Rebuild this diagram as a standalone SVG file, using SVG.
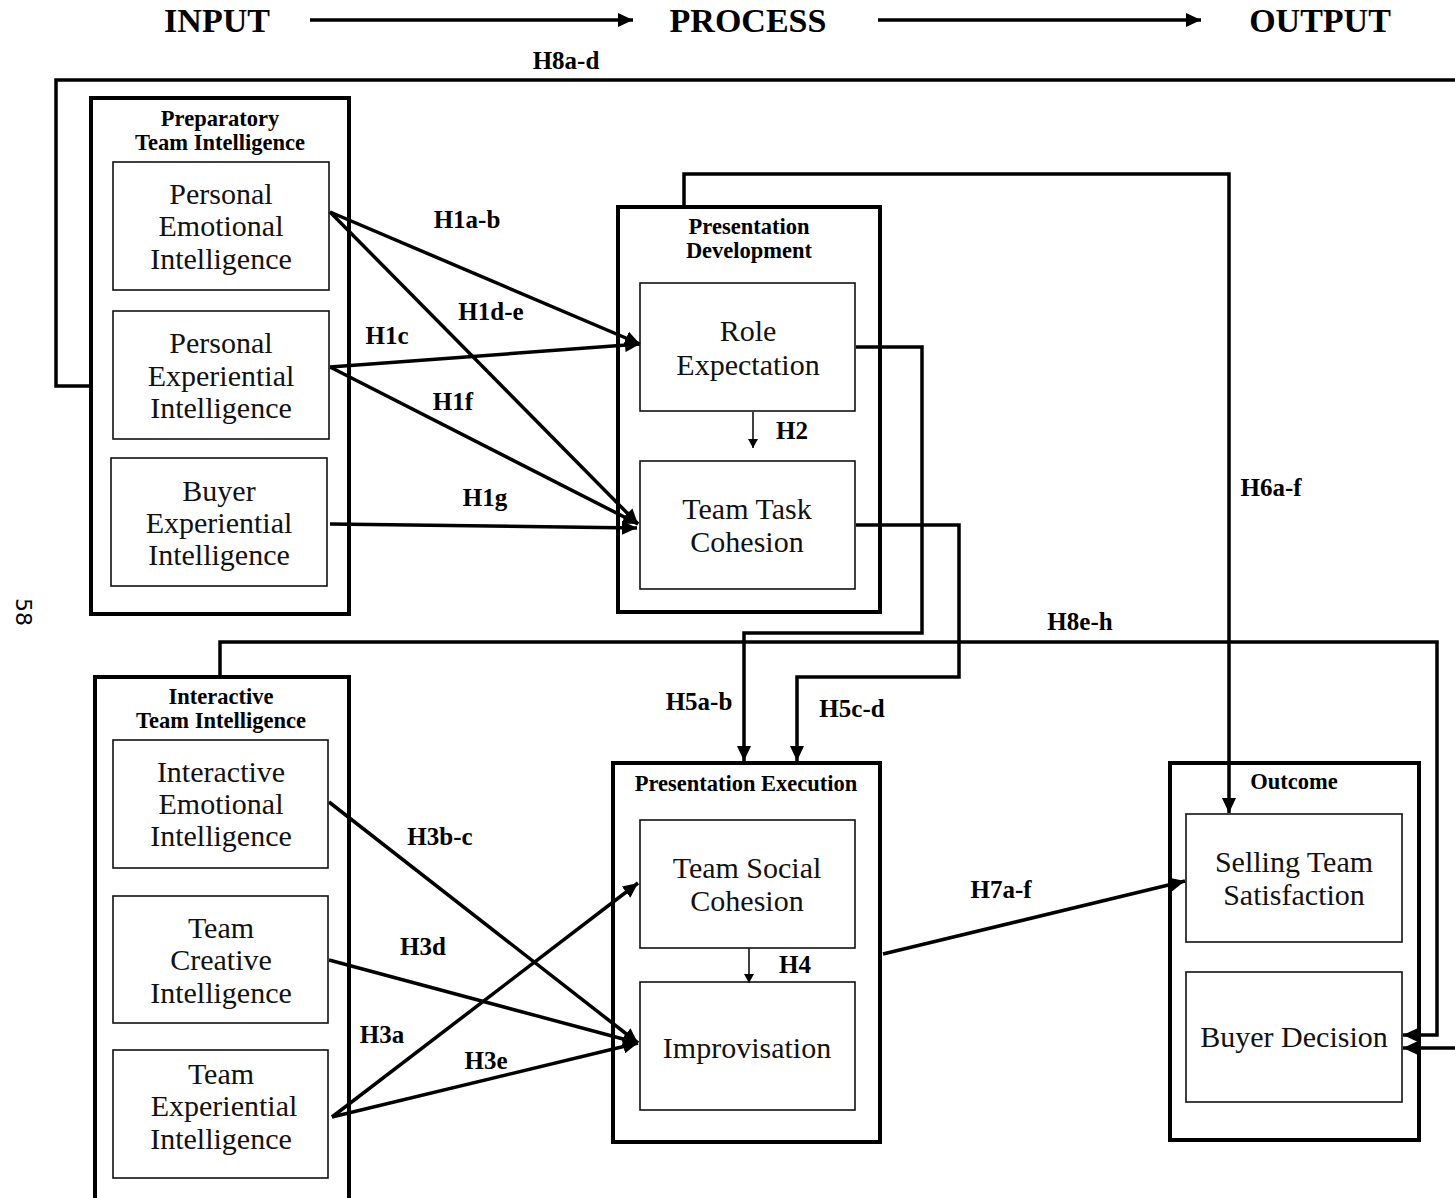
<svg xmlns="http://www.w3.org/2000/svg" width="1455" height="1198" viewBox="0 0 1455 1198">
  <defs>
    <marker id="head" markerUnits="userSpaceOnUse" markerWidth="16" markerHeight="14" refX="15" refY="7" orient="auto">
      <path d="M0,0 L15,7 L0,14 z" fill="#000"/>
    </marker>
    <marker id="headSmall" markerUnits="userSpaceOnUse" markerWidth="10" markerHeight="10" refX="9" refY="5" orient="auto">
      <path d="M0,0 L9,5 L0,10 z" fill="#000"/>
    </marker>
    <style>
      .outer { fill: none; stroke: #000; stroke-width: 4; }
      .inner { fill: none; stroke: #111; stroke-width: 1.6; }
      .wire { fill: none; stroke: #000; stroke-width: 3.5; }
      .thin { fill: none; stroke: #000; stroke-width: 1.5; }
      .head { font-family: "Liberation Serif", "Times New Roman", serif; font-weight: bold; font-size: 34px; text-anchor: middle; }
      .title { font-family: "Liberation Serif", "Times New Roman", serif; font-weight: bold; font-size: 22.5px; text-anchor: middle; }
      .node { font-family: "Liberation Serif", "Times New Roman", serif; font-size: 30px; text-anchor: middle; fill: #111; }
      .lab { font-family: "Liberation Serif", "Times New Roman", serif; font-weight: bold; font-size: 25px; text-anchor: middle; }
      .page { font-family: "DejaVu Sans", sans-serif; font-size: 22px; text-anchor: middle; }
    </style>
  </defs>
  <rect width="1455" height="1198" fill="#fff"/>

  <!-- stage banner -->
  <g id="stages">
    <text class="head" x="217" y="32">INPUT</text>
    <text class="head" x="748" y="32">PROCESS</text>
    <text class="head" x="1320" y="32">OUTPUT</text>
    <line class="wire" x1="310" y1="20" x2="633" y2="20" stroke-width="3" marker-end="url(#head)"/>
    <line class="wire" x1="878" y1="20" x2="1201" y2="20" stroke-width="3" marker-end="url(#head)"/>
  </g>

  <text class="page" transform="translate(16,612) rotate(90)">58</text>

  <!-- connectors -->
  <g id="connectors">
    <!-- H8a-d feedback loop -->
    <polyline class="wire" stroke-width="4" points="1460,80 56,80 56,386 91,386"/>
    <line class="wire" x1="1460" y1="1048" x2="1403" y2="1048" marker-end="url(#head)"/>
    <!-- H8e-h -->
    <polyline class="wire" points="220,677 220,642 1437,642 1437,1035 1403,1035" marker-end="url(#head)"/>
    <!-- H6a-f -->
    <polyline class="wire" points="684,207 684,174 1229,174 1229,813" marker-end="url(#head)"/>
    <!-- H5a-b -->
    <polyline class="wire" points="856,347 922,347 922,633 744,633 744,761" marker-end="url(#head)"/>
    <!-- H5c-d -->
    <polyline class="wire" points="856,525 959,525 959,677 797,677 797,761" marker-end="url(#head)"/>
    <!-- H1 paths -->
    <line class="wire" x1="330" y1="212" x2="640" y2="344" marker-end="url(#head)"/>
    <line class="wire" x1="330" y1="212" x2="638" y2="524" marker-end="url(#head)"/>
    <line class="wire" x1="330" y1="367" x2="640" y2="344" marker-end="url(#head)"/>
    <line class="wire" x1="330" y1="367" x2="638" y2="524" marker-end="url(#head)"/>
    <line class="wire" x1="330" y1="524" x2="637" y2="528" marker-end="url(#head)"/>
    <!-- H2 -->
    <line class="thin" x1="753" y1="412" x2="753" y2="448" marker-end="url(#headSmall)"/>
    <!-- H3 paths -->
    <line class="wire" x1="329" y1="802" x2="638" y2="1043" marker-end="url(#head)"/>
    <line class="wire" x1="329" y1="960" x2="638" y2="1043" marker-end="url(#head)"/>
    <line class="wire" x1="332" y1="1117" x2="638" y2="883" marker-end="url(#head)"/>
    <line class="wire" x1="332" y1="1117" x2="638" y2="1043" marker-end="url(#head)"/>
    <!-- H4 -->
    <line class="thin" x1="749" y1="948" x2="749" y2="983" marker-end="url(#headSmall)"/>
    <!-- H7a-f -->
    <line class="wire" x1="883" y1="954" x2="1185" y2="881" marker-end="url(#head)"/>
  </g>

  <!-- hypothesis labels -->
  <g id="labels">
    <text class="lab" x="566" y="69">H8a-d</text>
    <text class="lab" x="467" y="228">H1a-b</text>
    <text class="lab" x="491" y="320">H1d-e</text>
    <text class="lab" x="387" y="344">H1c</text>
    <text class="lab" x="453" y="410">H1f</text>
    <text class="lab" x="485" y="506">H1g</text>
    <text class="lab" x="792" y="439">H2</text>
    <text class="lab" x="1271" y="496">H6a-f</text>
    <text class="lab" x="1080" y="630">H8e-h</text>
    <text class="lab" x="699" y="710">H5a-b</text>
    <text class="lab" x="852" y="717">H5c-d</text>
    <text class="lab" x="440" y="845">H3b-c</text>
    <text class="lab" x="423" y="955">H3d</text>
    <text class="lab" x="382" y="1043">H3a</text>
    <text class="lab" x="486" y="1069">H3e</text>
    <text class="lab" x="795" y="973">H4</text>
    <text class="lab" x="1001" y="898">H7a-f</text>
  </g>

  <!-- Preparatory Team Intelligence -->
  <g id="preparatory">
    <rect class="outer" x="91" y="98" width="258" height="516"/>
    <text class="title" x="220" y="126">Preparatory</text>
    <text class="title" x="220" y="150">Team Intelligence</text>
  </g>
  <g id="personal-emotional">
    <rect class="inner" x="113" y="162" width="216" height="128"/>
    <text class="node" x="221" y="204">Personal</text>
    <text class="node" x="221" y="236">Emotional</text>
    <text class="node" x="221" y="269">Intelligence</text>
  </g>
  <g id="personal-experiential">
    <rect class="inner" x="113" y="311" width="216" height="128"/>
    <text class="node" x="221" y="353">Personal</text>
    <text class="node" x="221" y="386">Experiential</text>
    <text class="node" x="221" y="418">Intelligence</text>
  </g>
  <g id="buyer-experiential">
    <rect class="inner" x="111" y="458" width="216" height="128"/>
    <text class="node" x="219" y="501">Buyer</text>
    <text class="node" x="219" y="533">Experiential</text>
    <text class="node" x="219" y="565">Intelligence</text>
  </g>

  <!-- Presentation Development -->
  <g id="presentation-development">
    <rect class="outer" x="618" y="207" width="262" height="405"/>
    <text class="title" x="749" y="234">Presentation</text>
    <text class="title" x="749" y="258">Development</text>
  </g>
  <g id="role-expectation">
    <rect class="inner" x="640" y="283" width="215" height="128"/>
    <text class="node" x="748" y="341">Role</text>
    <text class="node" x="748" y="375">Expectation</text>
  </g>
  <g id="team-task-cohesion">
    <rect class="inner" x="640" y="461" width="215" height="128"/>
    <text class="node" x="747" y="519">Team Task</text>
    <text class="node" x="747" y="552">Cohesion</text>
  </g>

  <!-- Interactive Team Intelligence -->
  <g id="interactive">
    <rect class="outer" x="95" y="677" width="254" height="540"/>
    <text class="title" x="221" y="704">Interactive</text>
    <text class="title" x="221" y="728">Team Intelligence</text>
  </g>
  <g id="interactive-emotional">
    <rect class="inner" x="113" y="740" width="215" height="128"/>
    <text class="node" x="221" y="782">Interactive</text>
    <text class="node" x="221" y="814">Emotional</text>
    <text class="node" x="221" y="846">Intelligence</text>
  </g>
  <g id="team-creative">
    <rect class="inner" x="113" y="896" width="215" height="127"/>
    <text class="node" x="221" y="938">Team</text>
    <text class="node" x="221" y="970">Creative</text>
    <text class="node" x="221" y="1003">Intelligence</text>
  </g>
  <g id="team-experiential">
    <rect class="inner" x="113" y="1050" width="215" height="128"/>
    <text class="node" x="221" y="1084">Team</text>
    <text class="node" x="224" y="1116">Experiential</text>
    <text class="node" x="221" y="1149">Intelligence</text>
  </g>

  <!-- Presentation Execution -->
  <g id="presentation-execution">
    <rect class="outer" x="613" y="763" width="267" height="379"/>
    <text class="title" x="746" y="791">Presentation Execution</text>
  </g>
  <g id="team-social-cohesion">
    <rect class="inner" x="640" y="820" width="215" height="128"/>
    <text class="node" x="747" y="878">Team Social</text>
    <text class="node" x="747" y="911">Cohesion</text>
  </g>
  <g id="improvisation">
    <rect class="inner" x="640" y="982" width="215" height="128"/>
    <text class="node" x="747" y="1058">Improvisation</text>
  </g>

  <!-- Outcome -->
  <g id="outcome">
    <rect class="outer" x="1170" y="763" width="249" height="377"/>
    <text class="title" x="1294" y="789">Outcome</text>
  </g>
  <g id="selling-team-satisfaction">
    <rect class="inner" x="1186" y="814" width="216" height="128"/>
    <text class="node" x="1294" y="872">Selling Team</text>
    <text class="node" x="1294" y="905">Satisfaction</text>
  </g>
  <g id="buyer-decision">
    <rect class="inner" x="1186" y="972" width="216" height="130"/>
    <text class="node" x="1294" y="1047">Buyer Decision</text>
  </g>
</svg>
